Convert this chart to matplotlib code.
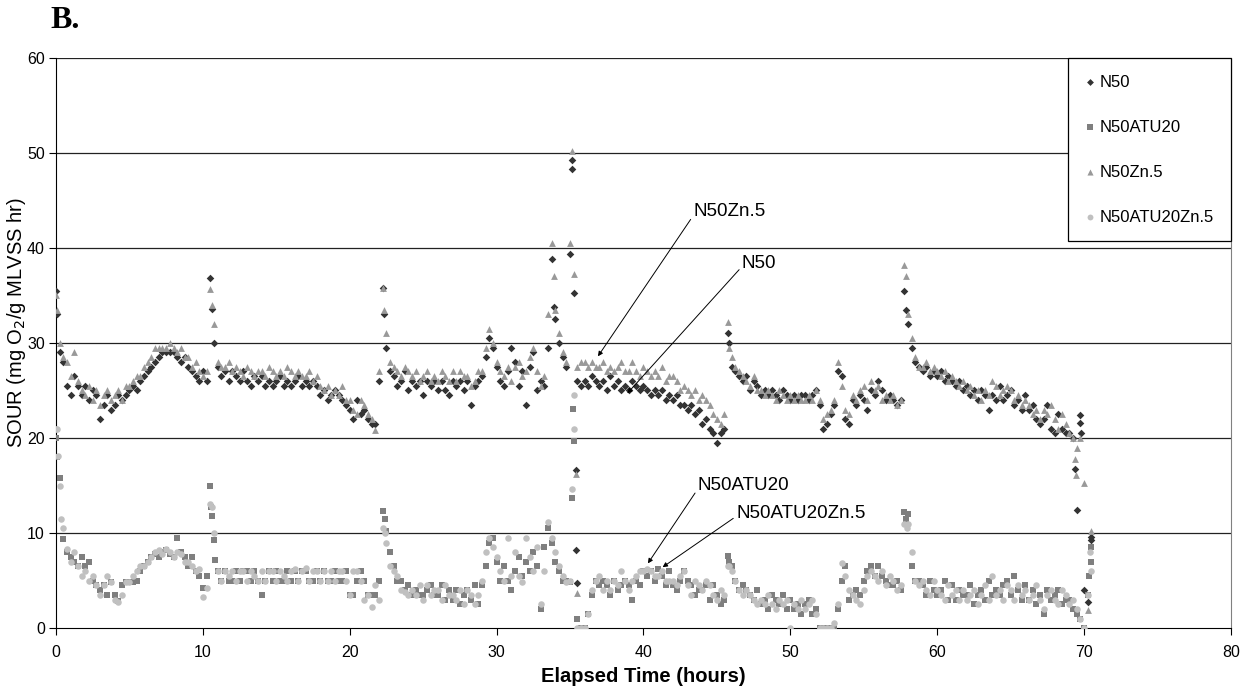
import numpy as np
import matplotlib
matplotlib.use("Agg")
import matplotlib.pyplot as plt

# Sampling grid (hours), 0.25 h steps from 0 to 70.5
hours = np.round(np.arange(0, 70.75, 0.25), 2)

n50 = [
    35.5, 29, 28, 25.5,   24.5, 26.5, 25.5, 24.5,   25.5, 24, 25, 24.5,   22, 23.5, 24.5, 23,
    23.5, 24.5, 24, 24.5,   25, 25.5, 25, 26,   26.5, 27, 27.5, 28,   28.5, 29, 29, 29,
    29, 28.5, 28, 28.5,   27.5, 27, 26.5, 26,   27, 26, 36.8, 30,   27.5, 26.5, 27, 26,
    27, 26.5, 26, 27,   26, 25.5, 26.5, 26,   26.5, 25.5, 26, 25.5,   26, 26.5, 25.5, 26,
    25.5, 26, 26.5, 25.5,   26, 25.5, 26, 25.5,   24.5, 25, 24, 24.5,   25, 24.5, 24, 23.5,
    23, 22, 24, 22.5,   23, 22, 21.5, 21.5,   26, 35.8, 29.5, 27,   26.5, 25.5, 26, 27,
    25, 26, 25.5, 26,   24.5, 26, 25.5, 26,   25, 26, 25, 24.5,   26, 25.5, 26, 25,
    26, 23.5, 25.5, 26,   26.5, 28.5, 30.5, 29.5,   27.5, 26, 25.5, 27,   29.5, 28, 25.5, 27,
    23.5, 27.5, 29, 25,   26, 25.5, 29.5, 38.8,   32.5, 30, 28.5, 27.5,   39.4, 35.3, 26, 25.5,
    26, 25.5, 26.5, 26,   25.5, 26, 25, 26.5,   25.5, 26, 25, 25.5,   25, 26, 25.5, 25,
    25.5, 25, 24.5, 25,   24.5, 25, 24, 24.5,   24, 24.5, 23.5, 23.5,   23, 23.5, 22.5, 23,
    21.5, 22, 21, 20.5,   19.5, 20.5, 21, 31,   27.5, 27, 26.5, 26,   26.5, 25, 26, 25.5,
    24.5, 25, 24.5, 25,   24.5, 24, 25, 24.5,   24, 24.5, 24, 24.5,   24.5, 24, 24.5, 25,
    23.5, 21, 21.5, 22.5,   23.5, 27, 26.5, 22,   21.5, 24, 23.5, 24.5,   24, 23, 25, 24.5,
    26, 25, 24, 24.5,   24, 23.5, 24, 35.5,   32, 29.5, 28, 27.5,   27, 27.5, 26.5, 27,
    26.5, 27, 26, 26.5,   26, 25.5, 26, 25,   25.5, 24.5, 25, 24,   25, 24.5, 23, 24.5,
    24, 25.5, 24, 24.5,   25, 23.5, 24, 23,   24.5, 23, 23.5, 22,   21.5, 22, 23.5, 21,
    20.5, 22.5, 21, 20.5,   20.5, 20, 12.4, 21.6,   4.0, 2.7, 9.3,
]
n50zn = [
    35, 30, 28.5, 28,   26.5, 29, 26, 25,   24.5, 25.5, 24, 25,   23.5, 24.5, 25, 24,
    24.5, 25, 24, 25.5,   25.5, 26, 26.5, 26.5,   27.5, 28, 28.5, 29.5,   29.5, 29.5, 29.5, 30,
    29.5, 29, 29.5, 28.5,   28.5, 27.5, 28, 27,   26.5, 27, 35.7, 32,   28, 27.5, 27.5, 28,
    27, 27.5, 27, 26.5,   27.5, 27, 26.5, 27,   27, 26.5, 27.5, 27,   26.5, 27, 26.5, 27.5,
    27, 26.5, 27, 26.5,   26.5, 27, 26, 26.5,   25.5, 25, 25.5, 24.5,   25, 24.5, 25.5, 24,
    24, 23, 22.5, 24,   23.5, 22.5, 22, 20.8,   27, 35.8, 31, 28,   27.5, 27, 26.5, 27.5,
    27, 26.5, 27, 26,   26.5, 27, 26, 26.5,   26, 27, 26.5, 26,   27, 26, 27, 26.5,
    26.5, 25.5, 26, 27,   27, 29.5, 31.5, 30,   28, 27, 26.5, 27.5,   26, 27.5, 28, 26.5,
    27, 28.5, 29.5, 27,   25.5, 26.5, 33, 40.5,   33.5, 31, 29, 28,   40.5, 37.3, 27.5, 28,
    28, 27.5, 28, 27.5,   27.5, 28, 27, 27.5,   27, 27.5, 28, 27,   27, 28, 27, 26.5,
    27.5, 27, 26.5, 27,   26.5, 27.5, 26, 26.5,   26.5, 26, 25, 25.5,   25, 24.5, 25, 24,
    24.5, 24, 23.5, 22.5,   22, 21.5, 22.5, 32.2,   28.5, 27.5, 27, 26.5,   26, 25.5, 26.5, 25,
    25, 24.5, 25, 24.5,   24, 25, 24.5, 24,   24.5, 24, 24.5, 24,   24, 24.5, 24, 25,
    24, 22, 22.5, 23,   24, 28, 25.5, 23,   22.5, 24.5, 24, 25,   25.5, 24, 26, 25,
    25.5, 24, 24.5, 24,   24.5, 23.5, 24, 38.2,   33, 30.5, 28.5, 27.5,   27.5, 28, 27, 27.5,
    27, 26.5, 27, 26,   26.5, 26, 25.5, 26,   25, 25.5, 24.5, 25,   24, 25, 24.5, 26,
    25.5, 24.5, 25, 25.5,   25, 24, 24.5, 23.5,   24, 23.5, 22.5, 23,   22, 23, 22.5, 23.5,
    22, 21, 22.5, 21.5,   20.5, 20, 18.9, 20,   15.3, 1.9, 10.2,
]
n50atu = [
    20, 15.8, 9.4, 8,   7.5, 7, 6.5, 7.5,   6.5, 7, 5, 4.5,   4, 4.5, 3.5, 4.8,
    3.5, 2.8, 4.5, 4.8,   4.8, 4.8, 5, 6,   6.5, 7, 7.5, 7.8,   7.5, 8, 8.2, 7.8,
    7.5, 9.5, 8, 7.5,   6.5, 7.5, 6, 5.5,   4.2, 5.5, 14.9, 9.3,   6, 5, 6, 5,
    5, 6, 5, 6,   6, 5, 6, 5,   3.5, 5, 6, 5,   6, 5, 5, 6,
    5, 6, 5, 6,   6, 5, 5, 6,   5, 6, 5, 5,   6, 5, 5, 6,
    3.5, 3.5, 5, 6,   5, 3.5, 3.5, 3.5,   5, 12.3, 10.2, 8,   6.5, 5, 5, 4,
    4.5, 3.5, 4, 3.5,   3.5, 4, 4.5, 3.5,   3.5, 4.5, 3, 4,   3, 4, 2.5, 3.5,
    4, 3, 4.5, 2.5,   4.5, 6.5, 9, 9.5,   7, 5, 6.5, 5,   4, 6, 7.5, 5.5,
    7, 6, 8, 6.5,   2, 8.5, 10.5, 9,   7, 6, 5, 5,   4.8, 19.7, 0.9, 0,
    0, 1.5, 3.5, 5,   4.5, 5, 4.5, 3.5,   5, 4, 4.5, 5,   4.5, 3, 5, 4.5,
    6, 5.5, 6, 5,   6.2, 5.5, 4.5, 6,   4.5, 4, 5, 6,   5, 4.5, 3.5, 4,
    4, 4.5, 3, 4.5,   3.5, 2.5, 3, 7.6,   6.5, 5, 4, 4.5,   4, 3.5, 3, 4,
    2.5, 3, 2, 3.5,   3, 2.5, 3.5, 2,   3, 2, 2.5, 1.5,   2.5, 3, 1.5, 2,
    0, 0, 0, 0,   0, 2, 5, 6.5,   3, 3.5, 4, 3.5,   5, 6, 6.5, 5.5,
    6.5, 5.5, 5, 4.5,   4.5, 5, 4, 12.2,   12, 6.5, 5, 5,   4.5, 3.5, 5, 4,
    3.5, 4, 5, 3,   4.5, 3, 4, 3.5,   3.5, 4.5, 2.5, 3.5,   4, 3, 5, 3.5,
    4, 3.5, 4.5, 5,   3.5, 5.5, 4, 3,   4.5, 3, 4, 2.5,   3.5, 1.5, 4, 3,
    3.5, 4, 2.5, 3,   3, 2, 1.5, 1,   0, 3.5, 7,
]
n50atuzn = [
    21, 15, 10.5, 8.3,   7, 8, 6.5, 5.5,   6, 5, 5.5, 4.5,   3.5, 4.5, 5.5, 4.8,
    3, 2.7, 3.5, 4.8,   4.8, 5.5, 6, 6.5,   6.5, 7, 7.5, 8,   8.2, 7.8, 8.3, 8,
    7.5, 8, 7.8, 7,   7, 6.5, 6, 6.2,   3.3, 4.2, 13.1, 10,   6, 5, 6, 5.5,
    6, 5, 6, 6,   5, 6, 5.5, 5,   6, 5, 6, 6,   5, 6, 5.5, 5,
    6, 6.2, 5, 6,   6.3, 5, 6, 6,   5, 6, 5, 6,   5, 6, 6, 5,
    3.5, 6, 6, 5,   3, 3.5, 2.2, 4.5,   3, 10.5, 9, 6.5,   6, 5.5, 4, 3.8,
    3.5, 4, 3.5, 4.5,   3, 4.5, 3.5, 4,   4, 3, 4.5, 3.5,   3.5, 3, 4, 2.5,
    4, 3.5, 2.5, 3.5,   5, 8, 9.5, 8.5,   7.5, 6, 5, 9.5,   5.5, 8, 5.5, 4.8,
    9.5, 7.5, 6, 8.5,   2.5, 6, 11.2, 9.5,   8, 6.5, 5.5, 4.8,   5, 24.5, 0, 0,
    0, 1.5, 4, 5,   5.5, 4, 5, 4,   5, 4.5, 6, 5,   4, 5, 5.5, 6,
    6, 6.2, 6, 5.5,   5.5, 6, 5, 5,   5, 4.5, 5.5, 6,   4.5, 3.5, 5, 4.5,
    4, 5, 4.5, 3.5,   3, 4, 3.5, 6.5,   6, 5, 4, 3.5,   4, 3.5, 3, 2.5,
    3, 2.5, 3.5, 2.5,   2, 3, 2.5, 3,   0, 2.5, 2, 3,   2, 2.5, 3, 1.5,
    0, 0, 0, 0,   0.5, 2.5, 6.8, 5.5,   4, 3.5, 3, 2.5,   4, 5.5, 6, 5.5,
    5, 6, 4.5, 5.5,   5, 4, 4.5, 11,   11, 8, 5, 4.5,   5, 4, 3.5, 5,
    4, 3.5, 3, 4.5,   3.5, 4, 3, 4,   3, 3.5, 4, 2.5,   3.5, 4.5, 3, 5.5,
    3.5, 4, 3, 4.5,   4, 3, 4.5, 3.5,   4, 3, 3.5, 4.5,   3, 2, 3.5, 4,
    3, 2.5, 4, 3.5,   2.5, 3, 2, 1,   0, 3.5, 6,
]

# Extra readings around the sharp peaks
n50_x_extra = [0.1, 10.6, 22.35, 33.9, 35.1, 35.15, 35.4, 35.42, 35.45, 45.8, 57.9, 69.4, 69.7, 69.8, 70.45]
n50_y_extra = [33, 33.6, 33, 33.8, 49.3, 48.3, 16.6, 8.2, 4.7, 30, 33.5, 16.7, 22.4, 20.5, 9.6]
n50zn_x_extra = [0.1, 10.6, 22.35, 33.9, 35.1, 35.4, 35.45, 45.8, 57.9, 69.4, 69.45]
n50zn_y_extra = [33.5, 34, 33.5, 37, 50.2, 16.2, 3.7, 29.5, 37, 17.8, 16.1]
n50atu_x_extra = [0.1, 10.55, 10.65, 10.85, 22.4, 35.1, 35.2, 45.85, 57.9, 70.3, 70.45]
n50atu_y_extra = [18, 12.7, 11.8, 7.2, 11.5, 13.7, 23.1, 7, 11.5, 5.5, 8.5]
n50atuzn_x_extra = [0.1, 0.15, 0.35, 10.6, 22.4, 35.15, 35.3, 45.85, 57.95, 70.4]
n50atuzn_y_extra = [20.9, 18.1, 11.5, 12.7, 10, 14.6, 21, 6.5, 10.5, 8]

series = [
    ("N50", n50, n50_x_extra, n50_y_extra, "D", "#333333", 15),
    ("N50ATU20", n50atu, n50atu_x_extra, n50atu_y_extra, "s", "#7f7f7f", 18),
    ("N50Zn.5", n50zn, n50zn_x_extra, n50zn_y_extra, "^", "#999999", 24),
    ("N50ATU20Zn.5", n50atuzn, n50atuzn_x_extra, n50atuzn_y_extra, "o", "#c0c0c0", 22),
]

plt.rcParams['font.family'] = ['Liberation Sans', 'DejaVu Sans']
fig = plt.figure(figsize=(12.5, 6.87), dpi=100)
ax = fig.add_axes([56/1250, 59/687, 1175/1250, 570/687])

for label, ys, xe, ye, m, c, s in series:
    xs = np.concatenate([hours, xe])
    yy = np.concatenate([np.array(ys, float), ye])
    ax.scatter(xs, yy, marker=m, s=s, color=c, linewidths=0, label=label, zorder=3)

ax.set_xlim(0, 80)
ax.set_ylim(0, 60)
ax.set_xticks(range(0, 81, 10))
ax.set_yticks(range(0, 61, 10))
ax.tick_params(axis='both', labelsize=11.5, direction='out', length=5, width=0.8, colors='black')
ax.tick_params(axis='x', pad=7)
ax.tick_params(axis='y', pad=3)
for y in range(10, 61, 10):
    ax.axhline(y, color='#222222', lw=0.9, zorder=1)
ax.spines['left'].set_color('black')
ax.spines['bottom'].set_color('black')
ax.spines['right'].set_color('#808080')
ax.spines['top'].set_visible(False)

ax.set_xlabel("Elapsed Time (hours)", fontsize=14.5, fontweight='bold', labelpad=5)
ax.set_ylabel("SOUR (mg O$_2$/g MLVSS hr)", fontsize=14.5)
ax.yaxis.set_label_coords(-0.024, 0.535)

fig.text(50/1250, 1 - 20/687, "B.", fontsize=23, fontweight='bold',
         family=['Liberation Serif', 'DejaVu Serif'], va='center', ha='left')

leg = ax.legend(loc='upper right', bbox_to_anchor=(1.0, 1.0), frameon=True, fancybox=False,
                edgecolor='black', fontsize=12, labelspacing=1.8, handlelength=0.6,
                handletextpad=0.3, borderpad=1.0, borderaxespad=0, markerscale=0.9,
                scatterpoints=1, framealpha=1)
leg.get_frame().set_linewidth(0.9)
leg.set_zorder(5)

arrow = dict(arrowstyle='-|>', lw=0.7, color='black', mutation_scale=7, shrinkA=0, shrinkB=0)
ax.annotate("N50Zn.5", xy=(36.9, 28.6), xytext=(43.4, 43.8), fontsize=13.5, va='center', ha='left',
            arrowprops=dict(arrow, relpos=(0, 0.3)))
ax.annotate("N50", xy=(38.9, 24.7), xytext=(46.7, 38.4), fontsize=13.5, va='center', ha='left',
            arrowprops=dict(arrow, relpos=(0, 0.3)))
ax.annotate("N50ATU20", xy=(40.3, 6.8), xytext=(43.7, 15.0), fontsize=13.5, va='center', ha='left',
            arrowprops=dict(arrow, relpos=(0, 0.3)))
ax.annotate("N50ATU20Zn.5", xy=(41.3, 6.4), xytext=(46.3, 12.1), fontsize=13.5, va='center', ha='left',
            arrowprops=dict(arrow, relpos=(0, 0.3)))

fig.savefig("out.png", dpi=100)
